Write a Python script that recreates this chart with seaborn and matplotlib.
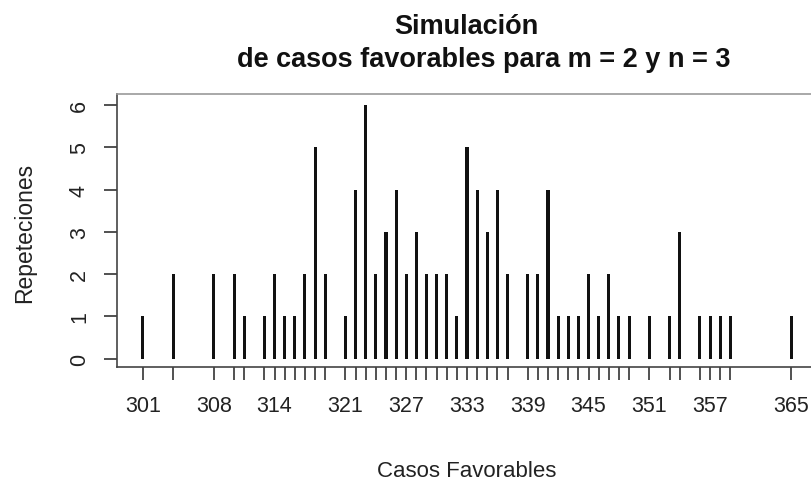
import matplotlib
matplotlib.use("Agg")
import matplotlib.pyplot as plt
import seaborn as sns

# casos favorables observados y cuantas veces salio cada uno
valores = [301, 304, 308, 310, 311, 313, 314, 315, 316, 317, 318, 319,
           321, 322, 323, 324, 325, 326, 327, 328, 329, 330, 331, 332,
           333, 334, 335, 336, 337, 339, 340, 341, 342, 343, 344, 345,
           346, 347, 348, 349, 351, 353, 354, 356, 357, 358, 359, 365]
frecuencias = [1, 2, 2, 2, 1, 1, 2, 1, 1, 2, 5, 2,
               1, 4, 6, 2, 3, 4, 2, 3, 2, 2, 2, 1,
               5, 4, 3, 4, 2, 2, 2, 4, 1, 1, 1, 2,
               1, 2, 1, 1, 1, 1, 3, 1, 1, 1, 1, 1]
etiquetas_x = [301, 308, 314, 321, 327, 333, 339, 345, 351, 357, 365]
etiquetas_y = [0, 1, 2, 3, 4, 5, 6]

sns.set_theme(style="white")
plt.rcParams["font.family"] = ["Liberation Sans", "DejaVu Sans"]

fig = plt.figure(figsize=(8.12, 4.85), dpi=100)
ax = fig.add_axes([117 / 812, 1 - 368 / 485, 700 / 812, 273 / 485])

sns.barplot(x=valores, y=frecuencias, native_scale=True, width=0.3,
            color="#111111", saturation=1, linewidth=0, ax=ax)

ax.set_xlim(298.44, 367.56)
ax.set_ylim(-0.2, 6.26)

ax.set_xticks(valores)
ax.set_xticklabels([str(v) if v in etiquetas_x else "" for v in valores])
ax.set_yticks(etiquetas_y)
ax.set_yticklabels([str(v) for v in etiquetas_y], rotation=90, va="center")
ax.tick_params(axis="x", bottom=True, direction="out", length=9.5, width=1.2,
               color="#333333", labelsize=15.5, pad=11, labelcolor="#222222")
ax.tick_params(axis="y", left=True, direction="out", length=9.5, width=1.2,
               color="#333333", labelsize=15.5, pad=10, labelcolor="#222222")
ax.set_xlabel("")
ax.set_ylabel("")

for lado in ["left", "bottom", "top", "right"]:
    ax.spines[lado].set_visible(True)
    ax.spines[lado].set_color("#444444")
    ax.spines[lado].set_linewidth(1.2)
ax.spines["top"].set_color("#999999")

fig.text(466 / 812, 1 - 34 / 485, "Simulación", ha="center", va="baseline",
         fontsize=19.5, fontweight="bold", color="#111111")
fig.text(484 / 812, 1 - 67 / 485, "de casos favorables para m = 2 y n = 3",
         ha="center", va="baseline", fontsize=19.5, fontweight="bold",
         color="#111111")
fig.text(467 / 812, 1 - 477 / 485, "Casos Favorables", ha="center",
         va="baseline", fontsize=16, color="#222222")
fig.text(25 / 812, 1 - 233 / 485, "Repeteciones", ha="center", va="center",
         rotation=90, fontsize=16.5, color="#222222")

fig.savefig("out.png", dpi=100)
